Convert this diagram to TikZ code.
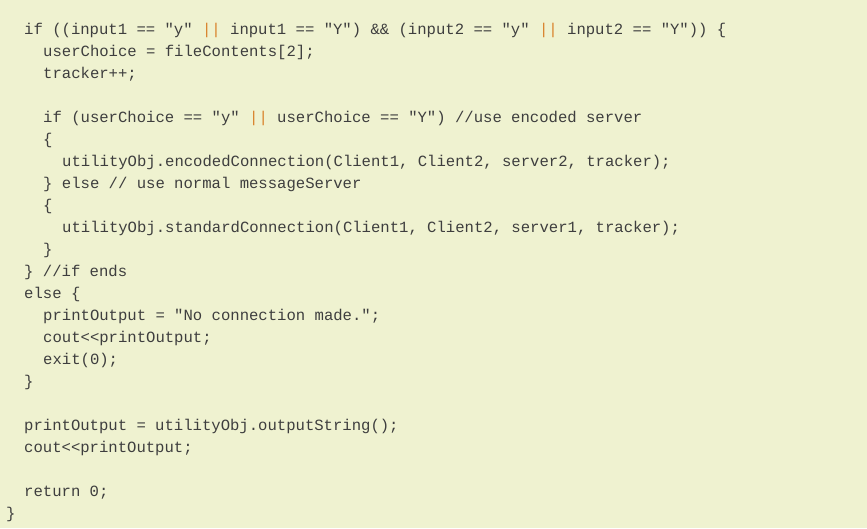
\documentclass[tikz,border=0pt]{standalone}
\usepackage{fontspec}
\setmonofont{Liberation Mono}
\definecolor{bg}{HTML}{EFF2D0}
\definecolor{tx}{HTML}{3E3E3E}
\definecolor{orr}{HTML}{D9822B}
\newcommand{\OR}{{\color{orr}||}}
\begin{document}
\begin{tikzpicture}[x=1pt,y=-1pt,
  code/.style={anchor=base west,inner sep=0pt,text=tx,font=\fontsize{15.6}{20}\ttfamily}]
\fill[bg] (0,0) rectangle (867,528);
\useasboundingbox (0,0) rectangle (867,528);
\node[code] (l1) at (24,34) {if ((input1 == "y" \OR{} input1 == "Y") \&\& (input2 == "y" \OR{} input2 == "Y")) \{};
\node[code] (l2) at (43,56) {userChoice = fileContents[2];};
\node[code] (l3) at (43,78) {tracker++;};
\node[code] (l4) at (43,122) {if (userChoice == "y" \OR{} userChoice == "Y") //use encoded server};
\node[code] (l5) at (43,144) {\{};
\node[code] (l6) at (62,166) {utilityObj.encodedConnection(Client1, Client2, server2, tracker);};
\node[code] (l7) at (43,188) {\} else // use normal messageServer};
\node[code] (l8) at (43,210) {\{};
\node[code] (l9) at (62,232) {utilityObj.standardConnection(Client1, Client2, server1, tracker);};
\node[code] (l10) at (43,254) {\}};
\node[code] (l11) at (24,276) {\} //if ends};
\node[code] (l12) at (24,298) {else \{};
\node[code] (l13) at (43,320) {printOutput = "No connection made.";};
\node[code] (l14) at (43,342) {cout<{}<printOutput;};
\node[code] (l15) at (43,364) {exit(0);};
\node[code] (l16) at (24,386) {\}};
\node[code] (l17) at (24,430) {printOutput = utilityObj.outputString();};
\node[code] (l18) at (24,452) {cout<{}<printOutput;};
\node[code] (l19) at (24,496) {return 0;};
\node[code] (l20) at (6,518) {\}};
\end{tikzpicture}
\end{document}
